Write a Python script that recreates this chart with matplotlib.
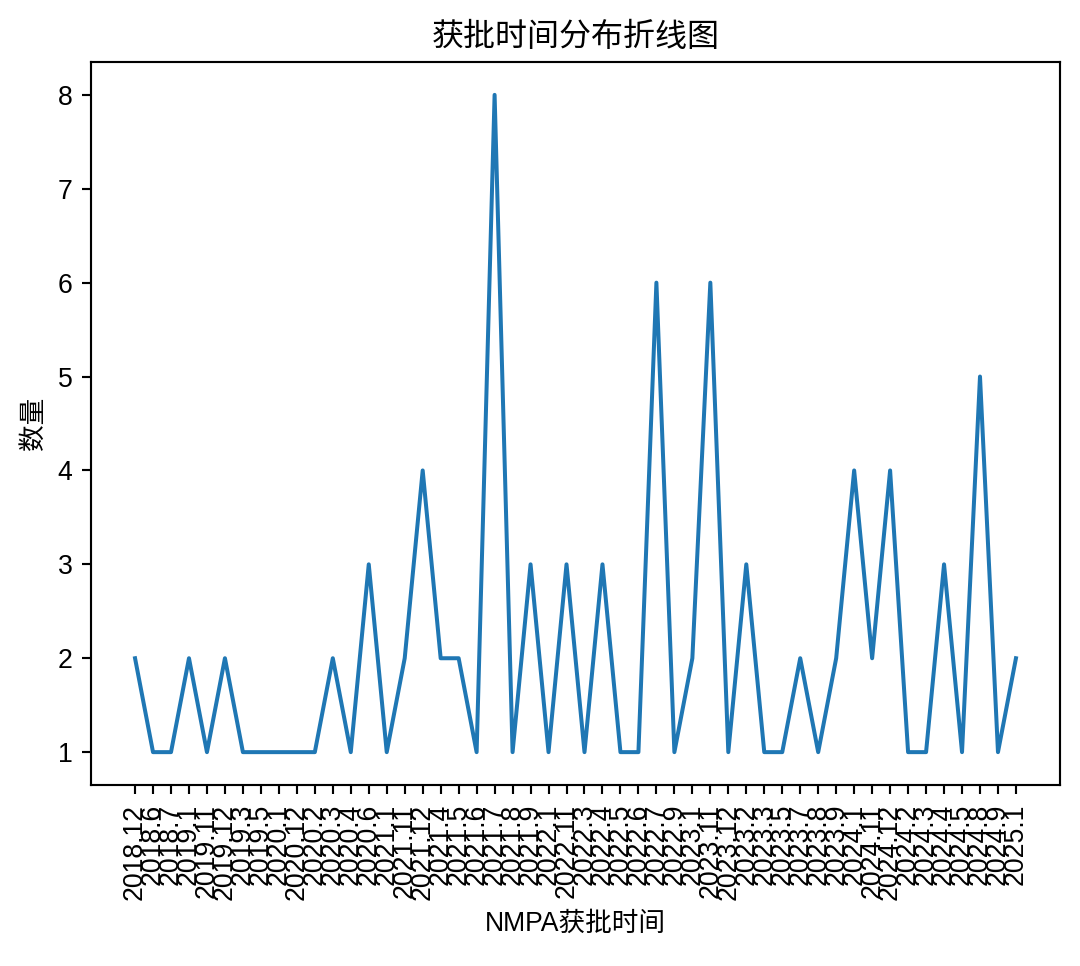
import matplotlib
matplotlib.use("Agg")
import matplotlib.pyplot as plt

plt.rcParams['font.family'] = ['Liberation Sans', 'Noto Sans CJK SC', 'DejaVu Sans']

dates = ["2018.12", "2018.6", "2018.7", "2019.1", "2019.11", "2019.12", "2019.3", "2019.5",
         "2020.1", "2020.12", "2020.2", "2020.3", "2020.4", "2020.6",
         "2021.1", "2021.11", "2021.12", "2021.4", "2021.5", "2021.6", "2021.7", "2021.8", "2021.9",
         "2022.1", "2022.11", "2022.3", "2022.4", "2022.5", "2022.6", "2022.7", "2022.9",
         "2023.1", "2023.11", "2023.12", "2023.2", "2023.3", "2023.5", "2023.7", "2023.8", "2023.9",
         "2024.1", "2024.11", "2024.12", "2024.2", "2024.3", "2024.4", "2024.5", "2024.8", "2024.9",
         "2025.1"]
counts = [2, 1, 1, 2, 1, 2, 1, 1,
          1, 1, 1, 2, 1, 3,
          1, 2, 4, 2, 2, 1, 8, 1, 3,
          1, 3, 1, 3, 1, 1, 6, 1,
          2, 6, 1, 3, 1, 1, 2, 1, 2,
          4, 2, 4, 1, 1, 3, 1, 5, 1,
          2]

fig = plt.figure(figsize=(1080/192, 966/192), dpi=192)
ax = fig.add_axes([91/1080, 1-785/966, (1060-91)/1080, (785-62)/966])
ax.plot(dates, counts, color='#1f77b4', linewidth=1.5)
ax.set_title("获批时间分布折线图", fontsize=12)
ax.set_xlabel("NMPA获批时间")
ax.set_ylabel("数量")
ax.tick_params(axis='x', labelrotation=90)
fig.savefig("out.png", dpi=192)
